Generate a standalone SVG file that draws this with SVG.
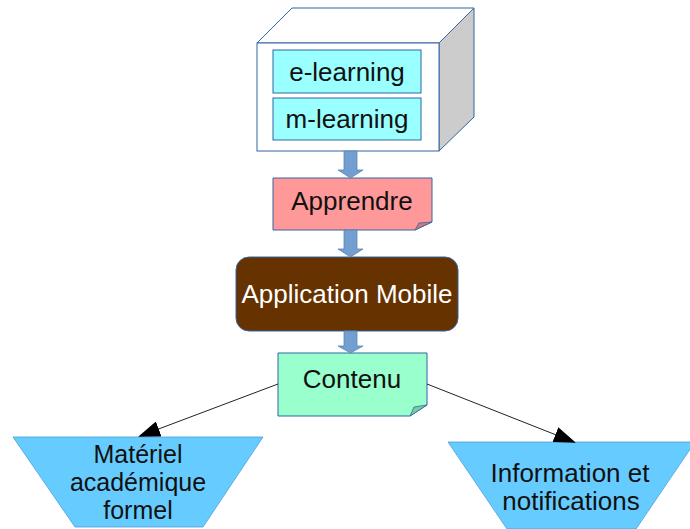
<svg xmlns="http://www.w3.org/2000/svg" width="690" height="529" viewBox="0 0 690 529">
<defs>
<style>
text{font-family:"Liberation Sans",Arial,sans-serif;font-size:26px;fill:#111;text-anchor:middle}
.tz{font-size:25px}
.bx{stroke:#3465a4;stroke-width:1}
.blk{fill:#729fcf;stroke:#5a84b8;stroke-width:0.8}
.con{stroke:#222;stroke-width:1;fill:none}
</style>
<marker id="ah" markerWidth="22" markerHeight="16" refX="20" refY="8" orient="auto" markerUnits="userSpaceOnUse">
<path d="M0,0 L22,8 L0,16 Z" fill="#000"/>
</marker>
</defs>
<rect width="690" height="529" fill="#fff"/>
<g id="cube">
<path class="bx" d="M257,43 L292,8 L474,8 L439,43 Z" fill="#ffffff"/>
<path class="bx" d="M439,43 L474,8 L474,117 L439,151 Z" fill="#cccccc"/>
<rect class="bx" x="257" y="43" width="182" height="108" fill="#ffffff"/>
</g>
<g id="elearning">
<rect class="bx" x="273" y="50" width="148" height="43" fill="#99ffff"/>
<text x="347" y="81">e-learning</text>
</g>
<g id="mlearning">
<rect class="bx" x="273" y="98" width="148" height="42" fill="#99ffff"/>
<text x="347" y="128">m-learning</text>
</g>
<g id="apprendre">
<path class="bx" d="M273,178 L432,178 L432,222 L415,230 L273,230 Z" fill="#ff9999"/>
<path d="M415,230 L419,223 L432,222 Z" fill="#cc7a7a" stroke="#3465a4" stroke-width="0.8"/>
<text x="352" y="210">Apprendre</text>
</g>
<g id="appmobile">
<rect class="bx" x="236" y="257" width="222" height="74" rx="13" fill="#663300"/>
<text x="347" y="303" style="fill:#fff">Application Mobile</text>
</g>
<g id="contenu">
<path class="bx" d="M278,353 L427,353 L427,405 L410,416 L278,416 Z" fill="#99ffcc"/>
<path d="M410,416 L414,407 L427,405 Z" fill="#7acca3" stroke="#3465a4" stroke-width="0.8"/>
<text x="352" y="388">Contenu</text>
</g>
<g id="materiel">
<path d="M13,437 L263,437 L203,527 L75,527 Z" fill="#66ccff" stroke="#4a9fd8" stroke-width="0.8"/>
<text class="tz" x="138" y="463">Matériel</text>
<text class="tz" x="138" y="491">académique</text>
<text class="tz" x="138" y="519">formel</text>
</g>
<g id="information">
<path d="M448,442 L695,442 L636,529 L507,529 Z" fill="#66ccff" stroke="#4a9fd8" stroke-width="0.8"/>
<text x="570" y="482">Information et</text>
<text x="571" y="510">notifications</text>
</g>
<g id="connectors">
<path class="blk" d="M344,151 L357,151 L357,170 L363,170 L350.5,178 L338,170 L344,170 Z"/>
<path class="blk" d="M344,230 L357,230 L357,249 L363,249 L350.5,257 L338,249 L344,249 Z"/>
<path class="blk" d="M344,331 L357,331 L357,346 L363,346 L350.5,353 L338,346 L344,346 Z"/>
<line class="con" x1="278" y1="384" x2="140" y2="436" marker-end="url(#ah)"/>
<line class="con" x1="427" y1="384" x2="574" y2="442" marker-end="url(#ah)"/>
</g>
</svg>
